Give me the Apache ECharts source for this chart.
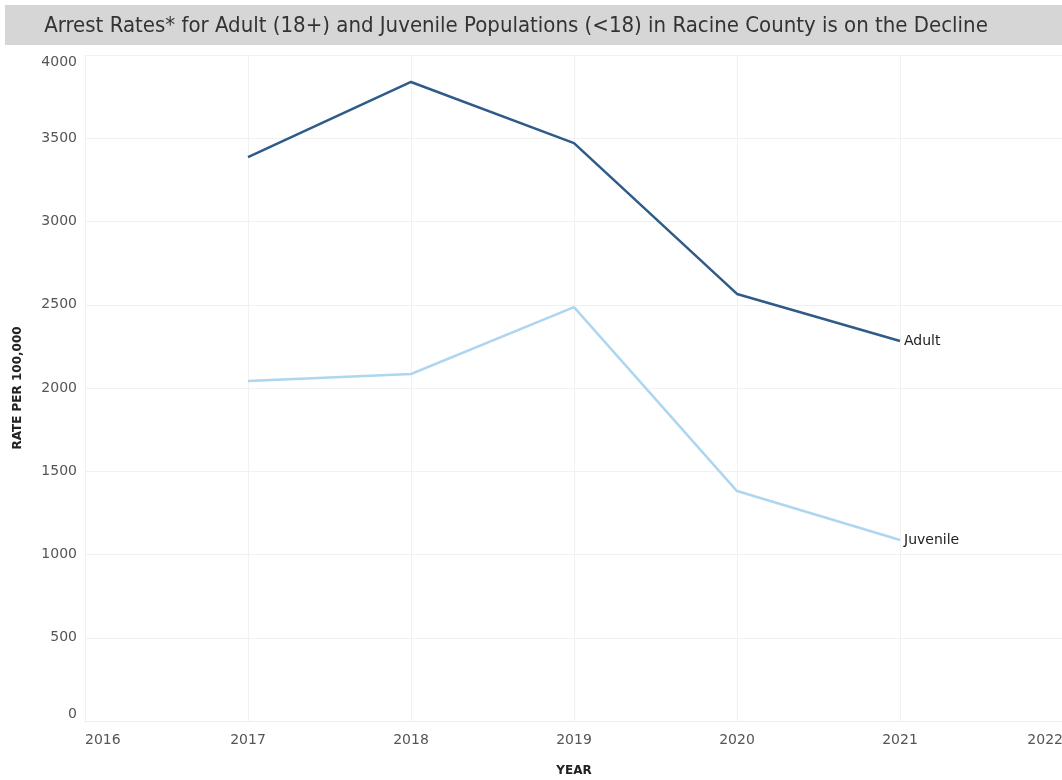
<!DOCTYPE html>
<html>
<head>
<meta charset="utf-8">
<script src="https://cdn.jsdelivr.net/npm/echarts@6/dist/echarts.min.js"></script>
<style>html,body{margin:0;padding:0;background:#fff}#c{width:1062px;height:780px}</style>
</head>
<body>
<div id="c"></div>
<script>
const years = [2017, 2018, 2019, 2020, 2021];
const adult = [3387, 3838, 3471, 2565, 2282];
const juvenile = [2042, 2084, 2486, 1381, 1087];
const seriesNames = ['Adult', 'Juvenile'];
const titleText = 'Arrest Rates* for Adult (18+) and Juvenile Populations (<18) in Racine County is on the Decline';

const chart = echarts.init(document.getElementById('c'), null, {renderer: 'canvas'});
const pair = (xs, ys) => xs.map((x, i) => [x, ys[i]]);
const tickFont = '"DejaVu Sans", sans-serif';
chart.setOption({
  animation: false,
  backgroundColor: '#fff',
  graphic: [
    {type: 'rect', shape: {x: 5, y: 5, width: 1062, height: 40}, style: {fill: '#d6d6d6'}, silent: true},
    {type: 'text', x: 516, y: 26, style: {text: titleText, fill: '#333', font: '22px "Liberation Sans Narrow", "DejaVu Sans Condensed", sans-serif', align: 'center', verticalAlign: 'middle'}}
  ],
  grid: {left: 85, top: 55, right: -1, bottom: 59, containLabel: false, outerBoundsMode: 'none'},
  xAxis: {
    type: 'value', min: 2016, max: 2022, interval: 1,
    name: 'YEAR', nameLocation: 'middle', nameGap: 44,
    nameTextStyle: {fontWeight: 'bold', fontSize: 12, color: '#222', fontFamily: tickFont},
    axisLine: {show: true, lineStyle: {color: '#eeeeee'}},
    axisTick: {show: false},
    axisLabel: {color: '#555', fontSize: 14, fontFamily: tickFont, margin: 12, formatter: v => String(v), alignMinLabel: 'left', alignMaxLabel: 'right'},
    splitLine: {show: true, lineStyle: {color: '#f1f1f1'}}
  },
  yAxis: {
    type: 'value', min: 0, max: 4000, interval: 500,
    name: 'RATE PER 100,000', nameLocation: 'middle', nameGap: 61, nameRotate: 90,
    nameTextStyle: {fontWeight: 'bold', fontSize: 12, color: '#222', fontFamily: tickFont},
    axisLine: {show: false}, axisTick: {show: false},
    axisLabel: {color: '#555', fontSize: 14, fontFamily: tickFont, margin: 8, formatter: v => String(v), verticalAlignMinLabel: 'bottom', verticalAlignMaxLabel: 'top'},
    splitLine: {show: true, lineStyle: {color: '#f1f1f1'}}
  },
  series: [
    {name: seriesNames[0], type: 'line', data: pair(years, adult), showSymbol: false, symbol: 'none',
     lineStyle: {color: '#2f5b89', width: 2.5}, itemStyle: {color: '#2f5b89'},
     endLabel: {show: true, formatter: '{a}', color: '#222', fontSize: 14, fontFamily: tickFont, distance: 4}},
    {name: seriesNames[1], type: 'line', data: pair(years, juvenile), showSymbol: false, symbol: 'none',
     lineStyle: {color: '#aed6f0', width: 2.5}, itemStyle: {color: '#aed6f0'},
     endLabel: {show: true, formatter: '{a}', color: '#222', fontSize: 14, fontFamily: tickFont, distance: 4}}
  ]
});
</script>
</body>
</html>
